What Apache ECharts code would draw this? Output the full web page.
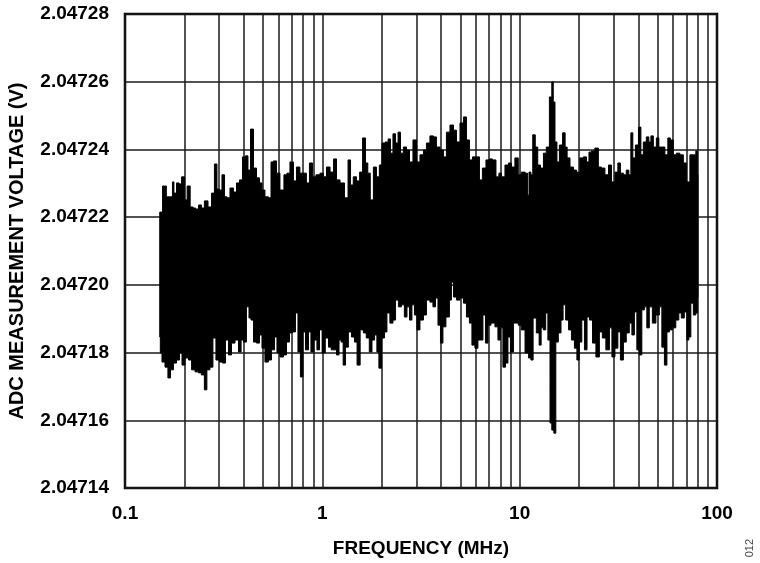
<!DOCTYPE html>
<html>
<head>
<meta charset="utf-8">
<script src="https://cdn.jsdelivr.net/npm/echarts@6/dist/echarts.min.js"></script>
<style>html,body{margin:0;padding:0;background:#fff}#c{width:760px;height:563px}</style>
</head>
<body>
<div id="c"></div>
<script>
// Upper envelope of the measured band (frequency in MHz, voltage in V)
const upperFreq = [0.150,0.154,0.156,0.161,0.163,0.173,0.175,0.179,0.186,0.190,0.197,0.204,0.209,0.219,0.224,0.232,0.240,0.248,0.257,0.270,
0.279,0.289,0.296,0.306,0.314,0.325,0.333,0.348,0.361,0.374,0.387,0.401,0.415,0.425,0.440,0.456,0.472,0.489,0.500,0.524,
0.543,0.556,0.575,0.596,0.624,0.654,0.670,0.701,0.727,0.752,0.788,0.816,0.845,0.876,0.907,0.950,0.996,1.03,1.07,1.12,
1.16,1.20,1.26,1.33,1.37,1.41,1.46,1.52,1.57,1.63,1.68,1.72,1.78,1.85,1.91,1.98,2.03,2.13,2.18,2.25,
2.31,2.39,2.45,2.53,2.62,2.72,2.81,2.95,3.05,3.20,3.31,3.43,3.59,3.72,3.85,4.04,4.18,4.33,4.54,4.70,
4.87,5.10,5.28,5.47,5.66,5.87,6.15,6.36,6.59,6.91,7.15,7.41,7.76,7.94,8.23,8.62,8.93,9.24,9.68,10.0,
10.4,10.9,11.0,11.3,11.5,11.8,12.2,12.5,13.0,13.4,13.9,14.4,14.7,14.9,15.3,15.6,16.2,16.8,17.2,17.6,
18.4,19.1,19.7,20.7,21.4,22.2,22.7,23.5,24.6,25.5,26.4,27.7,28.7,29.7,31.1,31.8,33.0,34.1,35.3,36.2,
37.0,37.9,39.3,40.7,41.6,43.1,44.6,45.7,46.8,48.4,50.2,51.3,53.2,55.7,57.0,59.0,61.2,63.3,66.4,68.7,
71.2,74.6,77.2,79.0,80.0];
const upperVolt = [2.0472215,2.0472215,2.0472292,2.0472292,2.0472260,2.0472260,2.0472304,2.0472271,2.0472301,2.0472298,2.0472319,2.0472251,2.0472292,2.0472230,2.0472227,2.0472224,2.0472236,2.0472227,2.0472248,2.0472230,
2.0472271,2.0472357,2.0472283,2.0472280,2.0472325,2.0472260,2.0472257,2.0472286,2.0472274,2.0472301,2.0472310,2.0472378,2.0472381,2.0472339,2.0472460,2.0472345,2.0472316,2.0472301,2.0472280,2.0472260,
2.0472257,2.0472363,2.0472366,2.0472330,2.0472280,2.0472325,2.0472330,2.0472363,2.0472307,2.0472348,2.0472330,2.0472330,2.0472301,2.0472360,2.0472319,2.0472325,2.0472330,2.0472319,2.0472348,2.0472333,
2.0472372,2.0472310,2.0472301,2.0472257,2.0472369,2.0472295,2.0472319,2.0472307,2.0472333,2.0472434,2.0472360,2.0472330,2.0472251,2.0472348,2.0472319,2.0472354,2.0472419,2.0472422,2.0472431,2.0472389,
2.0472446,2.0472419,2.0472451,2.0472389,2.0472407,2.0472398,2.0472363,2.0472428,2.0472363,2.0472384,2.0472398,2.0472419,2.0472440,2.0472437,2.0472407,2.0472398,2.0472378,2.0472451,2.0472472,2.0472457,
2.0472422,2.0472478,2.0472496,2.0472428,2.0472369,2.0472378,2.0472378,2.0472310,2.0472345,2.0472369,2.0472372,2.0472369,2.0472319,2.0472330,2.0472319,2.0472354,2.0472360,2.0472348,2.0472375,2.0472325,
2.0472333,2.0472330,2.0472265,2.0472333,2.0472325,2.0472443,2.0472407,2.0472354,2.0472345,2.0472389,2.0472407,2.0472555,2.0472599,2.0472540,2.0472422,2.0472363,2.0472413,2.0472449,2.0472407,2.0472375,
2.0472348,2.0472339,2.0472333,2.0472375,2.0472378,2.0472363,2.0472392,2.0472395,2.0472404,2.0472348,2.0472345,2.0472325,2.0472354,2.0472304,2.0472333,2.0472360,2.0472330,2.0472325,2.0472339,2.0472325,
2.0472449,2.0472375,2.0472413,2.0472466,2.0472384,2.0472422,2.0472437,2.0472422,2.0472440,2.0472407,2.0472434,2.0472407,2.0472407,2.0472384,2.0472434,2.0472428,2.0472384,2.0472389,2.0472384,2.0472360,
2.0472304,2.0472384,2.0472384,2.0472395,2.0472325];

// Lower envelope of the measured band
const lowerFreq = [0.150,0.152,0.156,0.163,0.167,0.173,0.179,0.186,0.192,0.197,0.206,0.214,0.221,0.232,0.240,0.248,0.257,0.263,0.276,0.282,
0.296,0.306,0.317,0.329,0.340,0.353,0.369,0.383,0.392,0.405,0.420,0.430,0.440,0.456,0.472,0.489,0.500,0.524,0.543,0.562,
0.582,0.596,0.624,0.647,0.670,0.693,0.718,0.744,0.761,0.788,0.807,0.836,0.865,0.886,0.928,0.950,0.985,1.01,1.06,1.09,
1.13,1.16,1.20,1.23,1.26,1.29,1.33,1.38,1.43,1.48,1.52,1.59,1.64,1.70,1.76,1.81,1.87,1.91,1.96,2.03,
2.10,2.15,2.25,2.31,2.39,2.47,2.56,2.65,2.72,2.81,2.88,2.98,3.05,3.20,3.31,3.43,3.59,3.68,3.81,3.90,
4.04,4.13,4.33,4.48,4.54,4.70,4.87,5.10,5.28,5.47,5.66,5.80,6.07,6.22,6.44,6.59,6.83,6.99,7.32,7.67,
7.85,8.13,8.32,8.62,8.82,9.14,9.46,9.68,10.0,10.4,10.9,11.3,11.5,11.9,12.4,12.7,13.0,13.4,13.7,14.1,
14.4,14.7,15.1,15.4,16.0,16.4,16.8,17.4,18.0,18.6,19.3,19.7,20.4,20.9,21.7,22.2,23.0,23.8,24.9,25.8,
26.7,28.0,29.0,29.7,31.1,31.8,33.0,34.1,35.3,36.6,37.5,38.8,39.7,41.1,42.1,43.6,44.6,46.2,47.9,50.2,
51.9,53.2,55.1,56.4,58.4,60.4,63.3,64.8,67.1,69.5,71.2,72.8,74.6,77.2,79.0,80.0];
const lowerVolt = [2.0471846,2.0471799,2.0471772,2.0471757,2.0471725,2.0471749,2.0471769,2.0471778,2.0471799,2.0471763,2.0471784,2.0471778,2.0471749,2.0471743,2.0471740,2.0471734,2.0471690,2.0471749,2.0471757,2.0471843,
2.0471778,2.0471772,2.0471769,2.0471837,2.0471793,2.0471828,2.0471837,2.0471802,2.0471837,2.0471831,2.0471935,2.0471902,2.0471896,2.0471831,2.0471828,2.0471852,2.0471813,2.0471772,2.0471778,2.0471808,
2.0471846,2.0471799,2.0471787,2.0471793,2.0471831,2.0471858,2.0471861,2.0471917,2.0471802,2.0471728,2.0471861,2.0471808,2.0471861,2.0471802,2.0471837,2.0471808,2.0471867,2.0471799,2.0471843,2.0471816,
2.0471808,2.0471808,2.0471793,2.0471837,2.0471831,2.0471763,2.0471816,2.0471861,2.0471846,2.0471831,2.0471763,2.0471867,2.0471858,2.0471843,2.0471802,2.0471837,2.0471852,2.0471802,2.0471754,2.0471843,
2.0471861,2.0471917,2.0471887,2.0471896,2.0471955,2.0471935,2.0471941,2.0471905,2.0471935,2.0471896,2.0471941,2.0471911,2.0471867,2.0471896,2.0471911,2.0471955,2.0471949,2.0471935,2.0471961,2.0471881,
2.0471828,2.0471876,2.0471905,2.0471955,2.0472008,2.0471964,2.0471955,2.0471961,2.0471946,2.0471905,2.0471887,2.0471822,2.0471813,2.0471837,2.0471837,2.0471911,2.0471828,2.0471881,2.0471887,2.0471876,
2.0471837,2.0471873,2.0471757,2.0471769,2.0471846,2.0471802,2.0471887,2.0471887,2.0471881,2.0471867,2.0471799,2.0471784,2.0471778,2.0471902,2.0471858,2.0471822,2.0471873,2.0471867,2.0471917,2.0471837,
2.0471592,2.0471571,2.0471562,2.0471831,2.0471858,2.0471896,2.0471941,2.0471896,2.0471867,2.0471837,2.0471813,2.0471778,2.0471831,2.0471896,2.0471808,2.0471905,2.0471896,2.0471828,2.0471787,2.0471861,
2.0471843,2.0471808,2.0471873,2.0471787,2.0471813,2.0471861,2.0471778,2.0471831,2.0471858,2.0471887,2.0471852,2.0471920,2.0471808,2.0471793,2.0471926,2.0471935,2.0471873,2.0471935,2.0471887,2.0471911,
2.0471935,2.0471816,2.0471763,2.0471861,2.0471867,2.0471873,2.0471896,2.0471917,2.0471902,2.0471920,2.0471837,2.0471846,2.0471946,2.0471911,2.0471917,2.0471964];

// Axis ticks
const xTickLabels = ['0.1', '1', '10', '100'];
const xMinorLines = [0.2,0.3,0.4,0.5,0.6,0.7,0.8,0.9,2,3,4,5,6,7,8,9,20,30,40,50,60,70,80,90];
const yMin = 2.04714, yMax = 2.04728, yStep = 0.00002;

const FONT = '"Liberation Sans", Arial, Helvetica, sans-serif';

// Build a step-like outline so the noise edges look like vertical spikes
function stepOutline(api, fr, vo, reverse) {
  const pts = [];
  const n = fr.length;
  for (let k = 0; k < n; k++) {
    const i = reverse ? n - 1 - k : k;
    const p = api.coord([fr[i], vo[i]]);
    const j = reverse ? i - 1 : i + 1;
    if (j >= 0 && j < n) {
      const q = api.coord([fr[j], vo[j]]);
      const mid = (p[0] + q[0]) / 2;
      if (k === 0) pts.push(p);
      pts.push([mid, p[1]]);
      pts.push([mid, q[1]]);
    } else {
      pts.push(p);
    }
  }
  return pts;
}

const chart = echarts.init(document.getElementById('c'), null, {renderer: 'canvas'});
chart.setOption({
  animation: false,
  backgroundColor: '#fff',
  grid: {left: 125, right: 43, top: 14, bottom: 75, containLabel: false, outerBoundsMode: 'none',
    show: true, borderColor: '#000', borderWidth: 2.5, backgroundColor: 'transparent'},
  xAxis: {
    type: 'log', logBase: 10, min: 0.1, max: 100,
    name: 'FREQUENCY (MHz)', nameLocation: 'middle', nameGap: 51,
    nameTextStyle: {fontFamily: FONT, fontWeight: 'bold', fontSize: 19, color: '#000'},
    axisLine: {show: false}, axisTick: {show: false},
    axisLabel: {fontFamily: FONT, fontWeight: 'bold', fontSize: 19, color: '#000', margin: 16,
      formatter: function (v) { return xTickLabels[Math.round(Math.log10(v)) + 1]; }},
    splitLine: {show: true, lineStyle: {color: '#1a1a1a', width: 1.5}}
  },
  yAxis: {
    type: 'value', min: yMin, max: yMax, interval: yStep,
    name: 'ADC MEASUREMENT VOLTAGE (V)', nameLocation: 'middle', nameGap: 98,
    nameTextStyle: {fontFamily: FONT, fontWeight: 'bold', fontSize: 20, color: '#000'},
    axisLine: {show: false}, axisTick: {show: false},
    axisLabel: {fontFamily: FONT, fontWeight: 'bold', fontSize: 19, color: '#000', margin: 16,
      formatter: function (v) { return v.toFixed(5); }},
    splitLine: {show: true, lineStyle: {color: '#1a1a1a', width: 1.5}}
  },
  graphic: [{
    type: 'text', left: 744, top: 539, rotation: Math.PI / 2,
    style: {text: '012', fontFamily: FONT, fontSize: 11, fill: '#444'}
  }],
  series: [
    {
      type: 'line', data: [], silent: true, z: 1,
      markLine: {
        silent: true, symbol: 'none', label: {show: false}, z: 1,
        lineStyle: {color: '#1a1a1a', width: 1.5, type: 'solid'},
        data: xMinorLines.map(function (v) { return {xAxis: v}; })
      }
    },
    {
      type: 'custom', coordinateSystem: 'cartesian2d', zlevel: 1, z: 10, silent: true,
      data: [[upperFreq[0], upperVolt[0]]],
      renderItem: function (params, api) {
        const top = stepOutline(api, upperFreq, upperVolt, false);
        const bot = stepOutline(api, lowerFreq, lowerVolt, true);
        return {type: 'polygon', shape: {points: top.concat(bot)}, style: {fill: '#000', stroke: '#000', lineWidth: 1}};
      }
    }
  ]
});
</script>
</body>
</html>
